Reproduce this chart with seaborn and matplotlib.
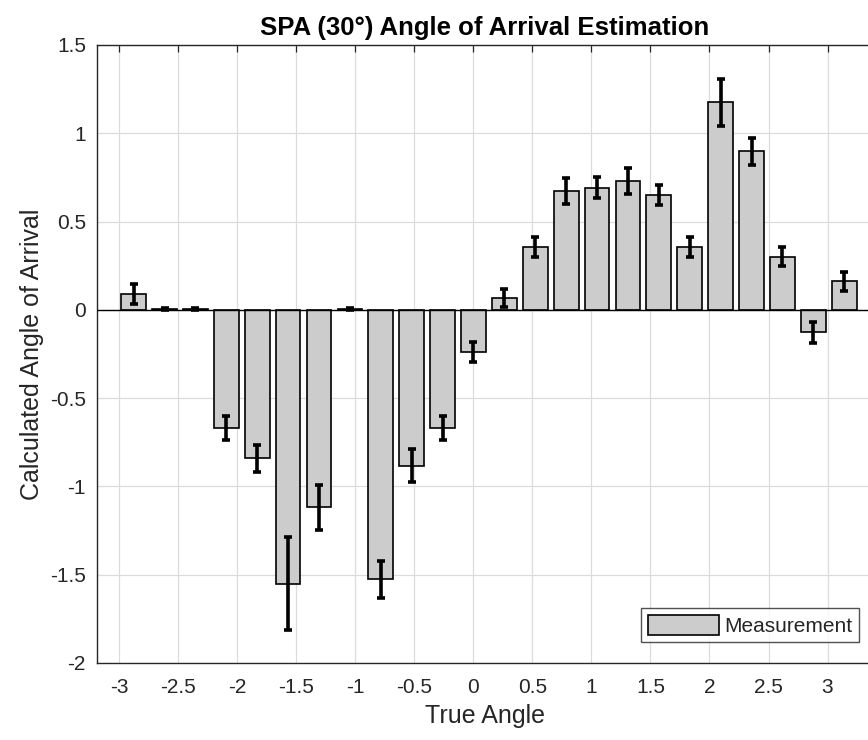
import numpy as np
import pandas as pd
import matplotlib
matplotlib.use("Agg")
import matplotlib.pyplot as plt
import seaborn as sns

# True arrival angles (degrees) of each measurement position
true_angle_deg = [-165, -150, -135, -120, -105, -90, -75, -60, -45, -30, -15, 0,
                  15, 30, 45, 60, 75, 90, 105, 120, 135, 150, 165, 180]
# Mean estimated angle of arrival (radians)
calc_angle = [0.091, 0.004, 0.004, -0.669, -0.841, -1.550, -1.119, 0.004,
              -1.527, -0.883, -0.669, -0.240, 0.068, 0.355, 0.672, 0.692,
              0.731, 0.652, 0.355, 1.175, 0.897, 0.302, -0.127, 0.162]
# Spread of the estimate (half-length of error bar)
calc_err = [0.057, 0.004, 0.004, 0.066, 0.075, 0.265, 0.127, 0.004,
            0.106, 0.093, 0.068, 0.056, 0.049, 0.057, 0.074, 0.059,
            0.074, 0.057, 0.055, 0.134, 0.074, 0.055, 0.060, 0.053]

x_ticks = [-3, -2.5, -2, -1.5, -1, -0.5, 0, 0.5, 1, 1.5, 2, 2.5, 3]
x_tick_labels = ["-3", "-2.5", "-2", "-1.5", "-1", "-0.5", "0", "0.5", "1",
                 "1.5", "2", "2.5", "3"]
y_ticks = [-2, -1.5, -1, -0.5, 0, 0.5, 1, 1.5]
y_tick_labels = ["-2", "-1.5", "-1", "-0.5", "0", "0.5", "1", "1.5"]

df = pd.DataFrame({
    "true": np.deg2rad(true_angle_deg),
    "calc": calc_angle,
    "err": calc_err,
})

sns.set_style("white")
plt.rcParams["font.family"] = ["Liberation Sans", "DejaVu Sans"]

fig = plt.figure(figsize=(8.68, 7.40), dpi=100)
ax = fig.add_axes([97 / 868, 77 / 740, 775 / 868, 618 / 740])

ax.grid(True, color="#dcdcdc", linewidth=0.9, zorder=0)
ax.set_axisbelow(True)

sns.barplot(data=df, x="true", y="calc", native_scale=True, errorbar=None,
            color="#cccccc", edgecolor="black", linewidth=1.2, width=0.8,
            saturation=1, label="Measurement", ax=ax, zorder=2)

ax.axhline(0, color="black", linewidth=1.0, zorder=3)

ax.errorbar(df["true"], df["calc"], yerr=df["err"], fmt="none",
            ecolor="black", elinewidth=2.6, capsize=3, capthick=2.6, zorder=4)

ax.set_xlim(-3.19, 3.377)
ax.set_ylim(-2, 1.5)
ax.set_xticks(x_ticks)
ax.set_xticklabels(x_tick_labels)
ax.set_yticks(y_ticks)
ax.set_yticklabels(y_tick_labels)

ax.tick_params(direction="in", length=5, width=0.9, colors="#262626",
               labelsize=15, top=True, right=False)
ax.tick_params(axis="x", pad=11)
ax.tick_params(axis="y", pad=8)
for side in ["left", "top", "bottom"]:
    ax.spines[side].set_color("#262626")
    ax.spines[side].set_linewidth(1.0)
ax.spines["right"].set_visible(False)

ax.set_xlabel("True Angle", fontsize=18, color="#262626", labelpad=5)
ax.set_ylabel("Calculated Angle of Arrival", fontsize=18, color="#262626",
              labelpad=4)
ax.set_title("SPA (30°) Angle of Arrival Estimation", fontsize=18.5,
             fontweight="bold", color="black", pad=7)

leg = ax.legend(loc="lower right", bbox_to_anchor=(859 / 868, 98 / 740),
                bbox_transform=fig.transFigure, borderaxespad=0,
                fontsize=15, frameon=True, fancybox=False,
                handlelength=3.45, handleheight=1.1, handletextpad=0.25,
                borderpad=0.3)
leg.get_frame().set_edgecolor("#262626")
leg.get_frame().set_linewidth(1.0)

fig.savefig("out.png", dpi=100)
